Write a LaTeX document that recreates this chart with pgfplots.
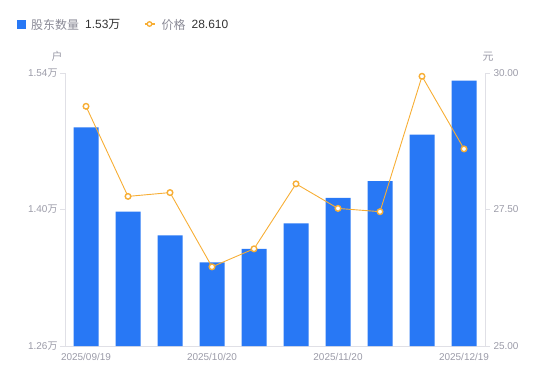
\documentclass[border=0pt]{standalone}
\usepackage{pgfplots}
\pgfplotsset{compat=1.18}
\usepackage{fontspec}
\setmainfont{Liberation Sans}
\newfontfamily\cjk{Noto Sans CJK SC}
\definecolor{barblue}{HTML}{2878F5}
\definecolor{lineorange}{HTML}{F7AE35}
\definecolor{axisgray}{HTML}{E0E0E6}
\definecolor{ticktext}{HTML}{9B9BA8}
\definecolor{legtext}{HTML}{8A8A96}
\definecolor{valtext}{HTML}{333333}
\begin{document}
\begin{tikzpicture}[x=1bp,y=1bp]
\path[use as bounding box] (0,0) rectangle (550,381);
\begin{axis}[at={(65bp,35bp)}, anchor=south west, scale only axis,
  width=420bp, height=273bp,
  xmin=-0.5, xmax=9.5, ymin=1.26, ymax=1.54,
  axis x line*=bottom, axis y line*=left,
  axis line style={draw=axisgray, line width=0.8bp, -},
  ytick={1.26,1.40,1.54},
  yticklabels={1.26{\cjk 万},1.40{\cjk 万},1.54{\cjk 万}},
  xtick={0,3,6,9},
  xticklabels={2025/09/19,2025/10/20,2025/11/20,2025/12/19},
  tick align=outside,
  major tick length=5bp,
  ytick style={draw=axisgray, line width=0.8bp},
  xtick style={draw=none},
  ticklabel style={text=ticktext, font=\fontsize{10}{12}\selectfont},
  yticklabel style={xshift=1bp},
  xticklabel style={yshift=1bp},
  clip=true,
]
\addplot[ybar, bar width=25bp, bar shift=0pt, fill=barblue, draw=none] coordinates {
(0,1.4843) (1,1.3978) (2,1.3735) (3,1.3458) (4,1.3595)
(5,1.3858) (6,1.4118) (7,1.4292) (8,1.4767) (9,1.5321)};
\end{axis}
\begin{axis}[at={(65bp,35bp)}, anchor=south west, scale only axis,
  width=420bp, height=273bp,
  xmin=-0.5, xmax=9.5, ymin=25, ymax=30,
  axis x line=none, axis y line*=right,
  axis line style={draw=axisgray, line width=0.8bp, -},
  ytick={25,27.5,30},
  yticklabels={25.00,27.50,30.00},
  tick align=outside,
  major tick length=5bp,
  ytick style={draw=axisgray, line width=0.8bp},
  ticklabel style={text=ticktext, font=\fontsize{10}{12}\selectfont},
  clip=false,
]
\addplot[lineorange, line width=0.9bp, mark=*, mark size=2.8bp,
  mark options={fill=white, draw=lineorange, line width=1.4bp}] coordinates {
(0,29.39) (1,27.74) (2,27.81) (3,26.45) (4,26.78)
(5,27.97) (6,27.52) (7,27.46) (8,29.94) (9,28.61)};
\end{axis}
% legend
\fill[barblue] (17,352) rectangle (25.5,360.5);
\node[anchor=west, inner sep=0, text=legtext, font=\fontsize{12}{14}\selectfont\cjk] at (31,356.5) {股东数量};
\node[anchor=west, inner sep=0, text=valtext, font=\fontsize{12}{14}\selectfont] at (85,356.5) {1.53{\cjk 万}};
\draw[lineorange, line width=1.2bp] (144.5,357) -- (154.5,357);
\draw[lineorange, fill=white, line width=1.3bp] (149.5,357) circle (2.3);
\node[anchor=west, inner sep=0, text=legtext, font=\fontsize{12}{14}\selectfont\cjk] at (161.5,356.5) {价格};
\node[anchor=west, inner sep=0, text=valtext, font=\fontsize{12}{14}\selectfont] at (191.5,356.5) {28.610};
% units
\node[text=ticktext, inner sep=0, font=\fontsize{11}{13}\selectfont\cjk] at (57,324.5) {户};
\node[text=ticktext, inner sep=0, font=\fontsize{11}{13}\selectfont\cjk] at (488,324) {元};
\end{tikzpicture}
\end{document}
